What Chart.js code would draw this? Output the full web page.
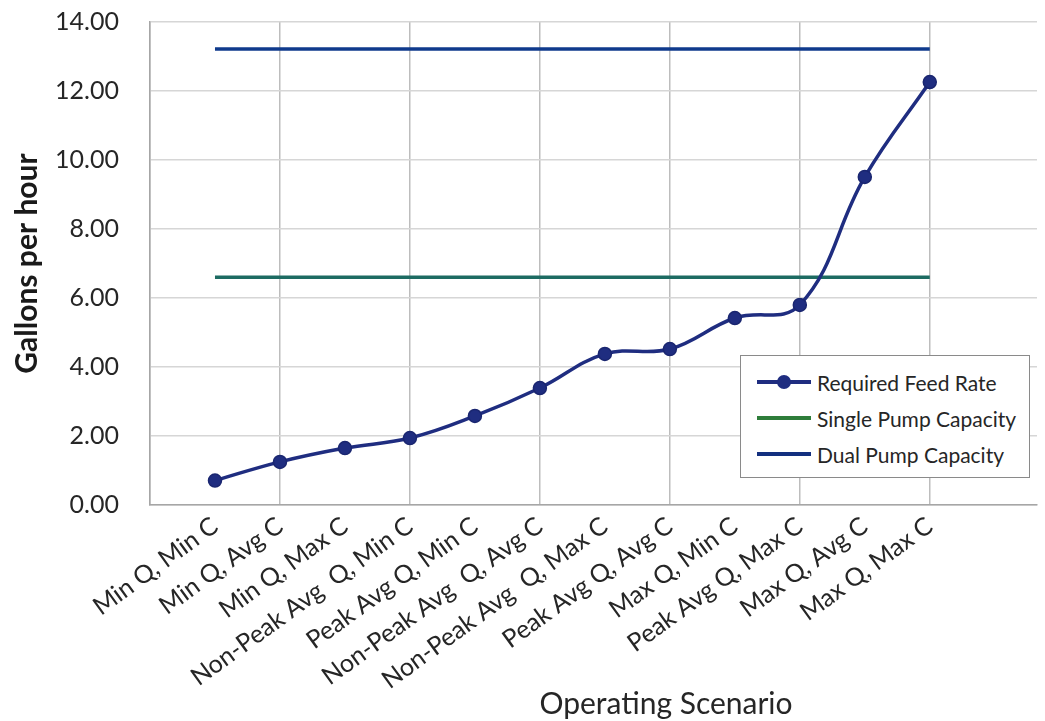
<!DOCTYPE html>
<html>
<head>
<meta charset="utf-8">
<script src="https://cdn.jsdelivr.net/npm/chart.js@4"></script>
<style>
  html, body { margin: 0; padding: 0; background: #fff; overflow: hidden; }
  #wrap { position: relative; width: 1045px; height: 721px; }
  #xTitle { position: absolute; left: 666px; top: 684px; transform: translateX(-50%);
            font: 30px Lato, sans-serif; color: #262626; white-space: nowrap; line-height: 36px; }
  #legend { position: absolute; left: 740px; top: 355px; width: 290px; height: 123px;
            border: 1.5px solid #8a8a8a; background: #fff; box-sizing: border-box;
            font: 21px Lato, sans-serif; color: #262626; }
  .row { position: absolute; left: 16px; height: 24px; display: flex; align-items: center; white-space: nowrap; }
  .sample { position: relative; width: 54px; height: 24px; margin-right: 6px; }
  .sample .ln { position: absolute; left: 0; right: 0; top: 10px; height: 4px; }
  .sample .dot { position: absolute; left: 20px; top: 5px; width: 14px; height: 14px; border-radius: 50%; }
</style>
</head>
<body>
<div id="wrap">
  <canvas id="chart" width="1045" height="721"></canvas>
  <div id="xTitle">Operating Scenario</div>
  <div id="legend">
    <div class="row" style="top:14px"><div class="sample"><div class="ln" style="background:#1f2d80"></div><div class="dot" style="background:#1f2d80"></div></div>Required Feed Rate</div>
    <div class="row" style="top:50px"><div class="sample"><div class="ln" style="background:#2e7d3a"></div></div>Single Pump Capacity</div>
    <div class="row" style="top:86px"><div class="sample"><div class="ln" style="background:#13307f"></div></div>Dual Pump Capacity</div>
  </div>
</div>
<script>
// --- data ---
const scenarios = [
    'Min Q, Min C', 'Min Q, Avg C', 'Min Q, Max C', 'Non-Peak Avg  Q, Min C',
    'Peak Avg Q, Min C', 'Non-Peak Avg  Q, Avg C', 'Non-Peak Avg  Q, Max C', 'Peak Avg Q, Avg C',
    'Max Q, Min C', 'Peak Avg Q, Max C', 'Max Q, Avg C', 'Max Q, Max C'
];
const feedRate = [0.71, 1.25, 1.65, 1.94, 2.58, 3.39, 4.38, 4.52, 5.42, 5.80, 9.51, 12.26];
const singlePump = [6.60, 6.60, 6.60, 6.60, 6.60, 6.60, 6.60, 6.60, 6.60, 6.60, 6.60, 6.60];
const dualPump = [13.22, 13.22, 13.22, 13.22, 13.22, 13.22, 13.22, 13.22, 13.22, 13.22, 13.22, 13.22];
const yTicks = [0, 2, 4, 6, 8, 10, 12, 14];

// category n sits at x = n (1..12) on a linear axis
const toPoints = (vals) => vals.map((v, i) => ({ x: i + 1, y: v }));

Chart.defaults.font.family = 'Lato, sans-serif';
Chart.defaults.color = '#404040';

const ctx = document.getElementById('chart').getContext('2d');
new Chart(ctx, {
    type: 'scatter',
    data: {
        datasets: [
            { label: 'Required Feed Rate', data: toPoints(feedRate), showLine: true, tension: 0.4,
              borderColor: '#1f2d80', backgroundColor: '#1f2d80', borderWidth: 3.5,
              pointRadius: 6.5, pointBorderWidth: 1.5, pointBorderColor: '#1a2670', order: 0 },
            { label: 'Single Pump Capacity', data: toPoints(singlePump), showLine: true,
              borderColor: '#1d6b62', borderWidth: 3.5, pointRadius: 0, order: 1 },
            { label: 'Dual Pump Capacity', data: toPoints(dualPump), showLine: true,
              borderColor: '#0f3a8c', borderWidth: 3.5, pointRadius: 0, order: 1 }
        ]
    },
    options: {
        responsive: false,
        animation: false,
        layout: { padding: { top: 22, right: 0, left: 0, bottom: 0 } },
        plugins: { legend: { display: false }, tooltip: { enabled: false } },
        scales: {
            x: {
                type: 'linear', min: 0, max: 13.65,
                afterBuildTicks: (s) => { s.ticks = [0,1,2,3,4,5,6,7,8,9,10,11,12,13].map(v => ({ value: v })); },
                afterFit: (s) => { s.height = 216; },
                grid: { color: (c) => (c.tick && c.tick.value % 2 === 0) ? '#bdbdbd' : 'rgba(0,0,0,0)',
                        lineWidth: 1.5, drawTicks: false },
                border: { color: '#a6a6a6', width: 1.5 },
                ticks: {
                    autoSkip: false, minRotation: 36, maxRotation: 36, padding: 6,
                    font: { size: 25 }, color: '#262626',
                    callback: (v) => scenarios[v - 1] || ''
                }
            },
            y: {
                min: 0, max: 14,
                afterBuildTicks: (s) => { s.ticks = yTicks.map(v => ({ value: v })); },
                afterFit: (s) => { s.width = 150; },
                grid: { color: '#d6d6d6', lineWidth: 1.5, drawTicks: true, tickLength: 31, tickColor: 'rgba(0,0,0,0)' },
                border: { color: '#a6a6a6', width: 1.5 },
                ticks: { padding: 0, font: { size: 25 }, color: '#262626', callback: (v) => v.toFixed(2) },
                title: { display: true, text: 'Gallons per hour', color: '#1a1a1a',
                         font: { size: 30, weight: 'bold' }, padding: { top: 9, bottom: 0 } }
            }
        }
    }
});
</script>
</body>
</html>
